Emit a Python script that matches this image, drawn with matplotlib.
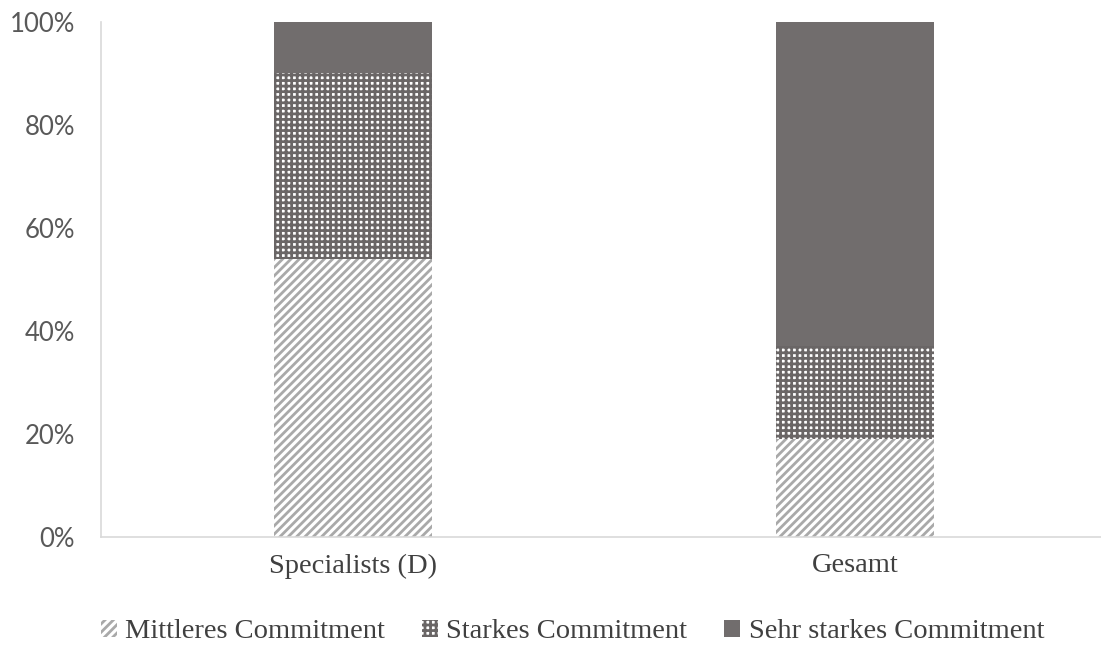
import numpy as np
import matplotlib
matplotlib.use("Agg")
from matplotlib import pyplot as plt
from matplotlib.ticker import PercentFormatter

categories = ['Specialists (D)', 'Gesamt']
series_names = ['Mittleres Commitment', 'Starkes Commitment', 'Sehr starkes Commitment']
mittleres = [54, 19]
starkes = [36, 18]
sehr_starkes = [10, 63]

plt.rcParams['hatch.linewidth'] = 2.0

fig = plt.figure(figsize=(11.01, 6.46), dpi=100)
ax = fig.add_axes([0.092, 0.169, 0.908, 0.797])

x = np.arange(len(categories))
w = 0.315
bottom = np.zeros(len(categories))

b1 = ax.bar(x, mittleres, w, bottom=bottom, facecolor='white', edgecolor='#a9a9a9',
            hatch='////', linewidth=0, label=series_names[0])
bottom += mittleres
b2 = ax.bar(x, starkes, w, bottom=bottom, facecolor='white', edgecolor='#6a6666',
            hatch='+++', linewidth=0, label=series_names[1])
bottom += starkes
b3 = ax.bar(x, sehr_starkes, w, bottom=bottom, facecolor='#716d6d', edgecolor='#716d6d',
            linewidth=0, label=series_names[2])

ax.set_xlim(-0.5025, 1.49)
ax.set_ylim(0, 100)
ax.set_yticks(np.arange(0, 101, 20))
ax.yaxis.set_major_formatter(PercentFormatter(decimals=0))
ax.set_xticks(x)
ax.set_xticklabels(categories, family='Liberation Serif', fontsize=20.5, color='#404040')
for lab in ax.get_yticklabels():
    lab.set_family('Lato')
    lab.set_fontsize(18.5)
    lab.set_color('#595959')
ax.tick_params(axis='both', length=0)
ax.tick_params(axis='x', pad=12)
ax.tick_params(axis='y', pad=19)

for s in ['top', 'right']:
    ax.spines[s].set_visible(False)
ax.spines['left'].set_color('#d9d9d9')
ax.spines['bottom'].set_color('#d9d9d9')
ax.spines['left'].set_linewidth(1.2)
ax.spines['bottom'].set_linewidth(1.2)

fig.legend(handles=[b1, b2, b3], loc='center', bbox_to_anchor=(0.52, 0.022), ncol=3,
           frameon=False, prop={'family': 'Liberation Serif', 'size': 20.5},
           handlelength=0.55, handleheight=0.55, handletextpad=0.3, columnspacing=1.3,
           labelcolor='#404040')

fig.savefig('out.png', dpi=100)
